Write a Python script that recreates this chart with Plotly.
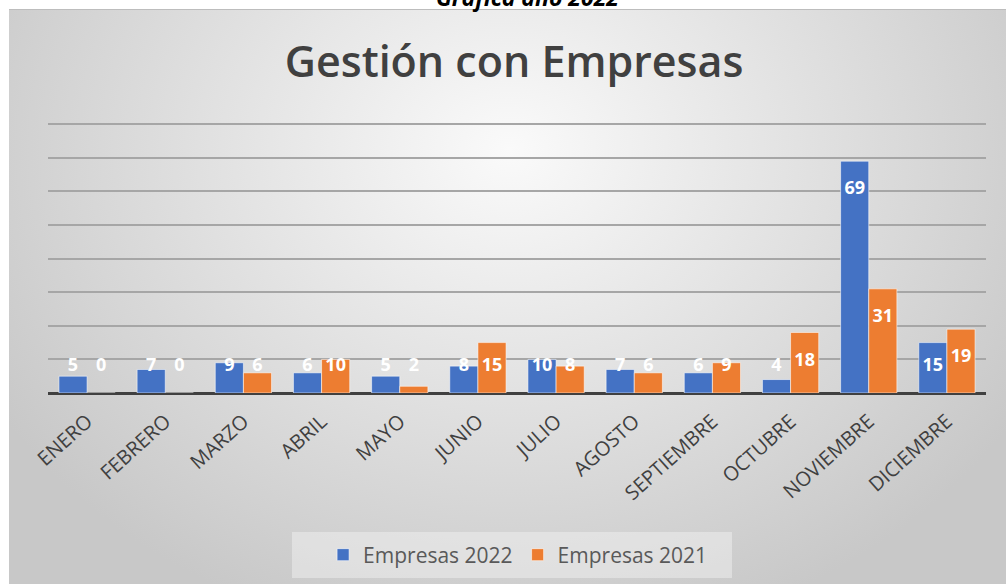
import plotly.graph_objects as go

meses = ["ENERO", "FEBRERO", "MARZO", "ABRIL", "MAYO", "JUNIO", "JULIO",
         "AGOSTO", "SEPTIEMBRE", "OCTUBRE", "NOVIEMBRE", "DICIEMBRE"]
empresas_2022 = [5, 7, 9, 6, 5, 8, 10, 7, 6, 4, 69, 15]
empresas_2021 = [0, 0, 6, 10, 2, 15, 8, 6, 9, 18, 31, 19]

W, H = 1006, 584
azul = "#4472C4"
naranja = "#ED7D31"
idx = list(range(len(meses)))

fig = go.Figure()

# fondo degradado del panel (subplot xy, se dibuja debajo del x2y2)
fig.add_trace(go.Scatter(
    x=[-90, 1110, 1110, -90, -90], y=[-350, -350, 650, 650, -350],
    fill="toself", mode="none", hoverinfo="skip", showlegend=False,
    fillgradient=dict(type="radial", colorscale=[[0, "#fafafa"], [1, "#c8c8c8"]])))

fig.add_trace(go.Bar(
    x=idx, y=empresas_2022, name="Empresas 2022", offset=-0.36, width=0.36,
    xaxis="x2", yaxis="y2",
    marker=dict(color=azul, line=dict(color="rgba(255,255,255,0.55)", width=1))))
fig.add_trace(go.Bar(
    x=idx, y=empresas_2021, name="Empresas 2021", offset=0, width=0.36,
    xaxis="x2", yaxis="y2",
    marker=dict(color=naranja, line=dict(color="rgba(255,255,255,0.55)", width=1))))

# etiquetas de datos (inside end, sin bajar de cierta altura)
for serie, dx in ((empresas_2022, -0.18), (empresas_2021, 0.18)):
    fig.add_trace(go.Scatter(
        x=[i + dx for i in idx], y=[max(v - 8.5, 8) for v in serie],
        xaxis="x2", yaxis="y2",
        mode="text", text=[str(v) for v in serie], showlegend=False, hoverinfo="skip",
        textfont=dict(family="Open Sans", size=18, color="white", weight="bold"),
        cliponaxis=False))

x0, x1 = 48, 986
y_base = 393
px_unit = 33.6 / 10
y_top = y_base - 81 * px_unit

fig.update_layout(
    width=W, height=H, template="none",
    margin=dict(l=0, r=0, t=0, b=0),
    paper_bgcolor="white", plot_bgcolor="rgba(0,0,0,0)",
    font=dict(family="Open Sans", color="#404040"),
    title=dict(text="Gestión con Empresas", x=0.511, xanchor="center",
               y=1 - 62 / H, yanchor="middle", yref="container",
               font=dict(family="Open Sans", size=43, color="#404040", weight=600)),
    xaxis=dict(domain=[0, 1], range=[0, W], visible=False, fixedrange=True),
    yaxis=dict(domain=[0, 1], range=[H, 0], visible=False, fixedrange=True),
    xaxis2=dict(domain=[x0 / W, x1 / W], range=[-0.5, 11.5], tickvals=idx, ticktext=meses,
                anchor="y2", tickangle=-42, tickfont=dict(size=20, color="#404040"),
                ticklabelstandoff=12,
                showgrid=False, zeroline=False, showline=False, ticks="", automargin=False),
    yaxis2=dict(domain=[1 - y_base / H, 1 - y_top / H], range=[0, 81], dtick=10,
                anchor="x2", showticklabels=False, showgrid=True, gridcolor="#a6a6a6",
                gridwidth=2, zeroline=True, zerolinecolor="#404040", zerolinewidth=3,
                ticks="", automargin=False),
    legend=dict(orientation="h", x=0.515, xanchor="center", y=1 - 555 / H, yanchor="middle",
                bgcolor="rgba(0,0,0,0)", borderwidth=0,
                font=dict(size=21, color="#595959"), itemwidth=30),
    annotations=[dict(text="<b><i>Gráfica año 2022</i></b>", x=527 / W, y=1 + 3 / H,
                      xref="paper", yref="paper", xanchor="center", yanchor="middle",
                      showarrow=False, font=dict(family="Open Sans", size=23, color="#000000"))],
    shapes=[
        dict(type="rect", xref="paper", yref="paper", x0=292 / W, x1=732 / W,
             y0=1 - 578 / H, y1=1 - 532 / H,
             fillcolor="rgba(245,245,245,0.45)", line=dict(width=0), layer="above"),
        dict(type="rect", xref="paper", yref="paper", x0=0, x1=1, y0=1 - 9 / H, y1=1.01,
             fillcolor="white", line=dict(width=0), layer="above"),
        dict(type="rect", xref="paper", yref="paper", x0=-0.01, x1=9 / W, y0=-0.01, y1=1.01,
             fillcolor="white", line=dict(width=0), layer="above"),
        dict(type="line", xref="paper", yref="paper", x0=9 / W, x1=1, y0=1 - 9.5 / H, y1=1 - 9.5 / H,
             line=dict(color="#bdbdbd", width=1), layer="above"),
    ],
)

fig.write_html("out.html", config={"displayModeBar": False},
               post_script="document.body.style.margin='0';document.body.style.overflow='hidden';")
